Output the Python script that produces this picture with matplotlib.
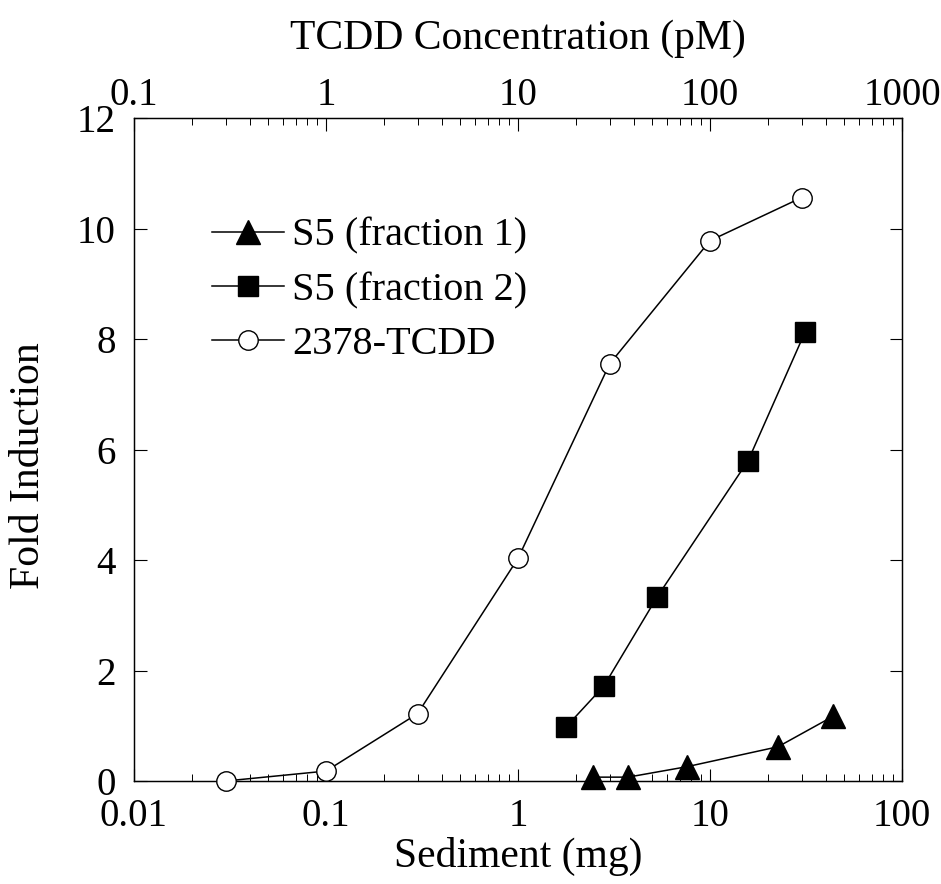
import matplotlib
matplotlib.use("Agg")
from matplotlib import pyplot as plt
from matplotlib import ticker

# data
sed_f1 = [2.46, 3.74, 7.6, 22.6, 43.7]        # mg
fold_f1 = [0.07, 0.07, 0.26, 0.62, 1.17]

sed_f2 = [1.78, 2.8, 5.3, 15.8, 31.2]         # mg
fold_f2 = [0.98, 1.72, 3.33, 5.8, 8.12]

tcdd_pm = [0.3, 1, 3, 10, 30, 100, 300]       # pM (top axis)
fold_tcdd = [0.0, 0.18, 1.22, 4.03, 7.55, 9.78, 10.56]

bottom_ticks = [0.01, 0.1, 1, 10, 100]
bottom_labels = ["0.01", "0.1", "1", "10", "100"]
top_ticks = [0.1, 1, 10, 100, 1000]
top_labels = ["0.1", "1", "10", "100", "1000"]
y_ticks = [0, 2, 4, 6, 8, 10, 12]

plt.rcParams['font.family'] = ['Liberation Serif', 'DejaVu Serif']
fs = 28      # tick labels
fs_lab = 30  # axis titles

fig = plt.figure(figsize=(9.41, 8.84), dpi=100)
ax = fig.add_axes([0.1424, 0.1165, 0.8162, 0.75])
ax_top = ax.twiny()

def style_axis(a):
  a.set_xscale("log")
  a.xaxis.set_minor_locator(ticker.LogLocator(base=10, subs=range(2, 10)))
  a.xaxis.set_minor_formatter(ticker.NullFormatter())
  a.tick_params(which="major", direction="in", length=9, width=0.8, labelsize=fs)
  a.tick_params(which="minor", direction="in", length=5, width=0.7)

style_axis(ax)
style_axis(ax_top)

l1, = ax.plot(sed_f1, fold_f1, "-", color="black", lw=1.1, marker="^",
              ms=17, mfc="black", mec="black", label="S5 (fraction 1)",
              clip_on=False, zorder=3)
l2, = ax.plot(sed_f2, fold_f2, "-", color="black", lw=1.1, marker="s",
              ms=15, mfc="black", mec="black", label="S5 (fraction 2)",
              clip_on=False, zorder=3)
l3, = ax_top.plot(tcdd_pm, fold_tcdd, "-", color="black", lw=1.1, marker="o",
                  ms=14, mfc="white", mec="black", mew=1.0, label="2378-TCDD",
                  clip_on=False, zorder=3)

ax.set_xlim(0.01, 100)
ax.set_ylim(0, 12)
ax_top.set_xlim(0.1, 1000)

ax.set_xticks(bottom_ticks)
ax.set_xticklabels(bottom_labels)
ax_top.set_xticks(top_ticks)
ax_top.set_xticklabels(top_labels)
ax.set_yticks(y_ticks)
ax.tick_params(axis="y", right=True, labelsize=fs, pad=13)
ax.tick_params(axis="x", pad=12)
ax_top.tick_params(axis="x", pad=3)

ax.set_xlabel("Sediment (mg)", fontsize=fs_lab, labelpad=2)
ax.set_ylabel("Fold Induction", fontsize=fs_lab)
ax.yaxis.set_label_coords(-0.112, 0.475)
ax_top.set_xlabel("TCDD Concentration (pM)", fontsize=fs_lab, labelpad=20)

for a in (ax, ax_top):
  for s in a.spines.values():
    s.set_linewidth(0.9)

ax.legend(handles=[l1, l2, l3], loc="upper left", bbox_to_anchor=(0.08, 0.874),
          frameon=False, fontsize=29, handlelength=1.8, handletextpad=0.2,
          labelspacing=0.42, borderaxespad=0)

fig.savefig("out.png", dpi=100)
